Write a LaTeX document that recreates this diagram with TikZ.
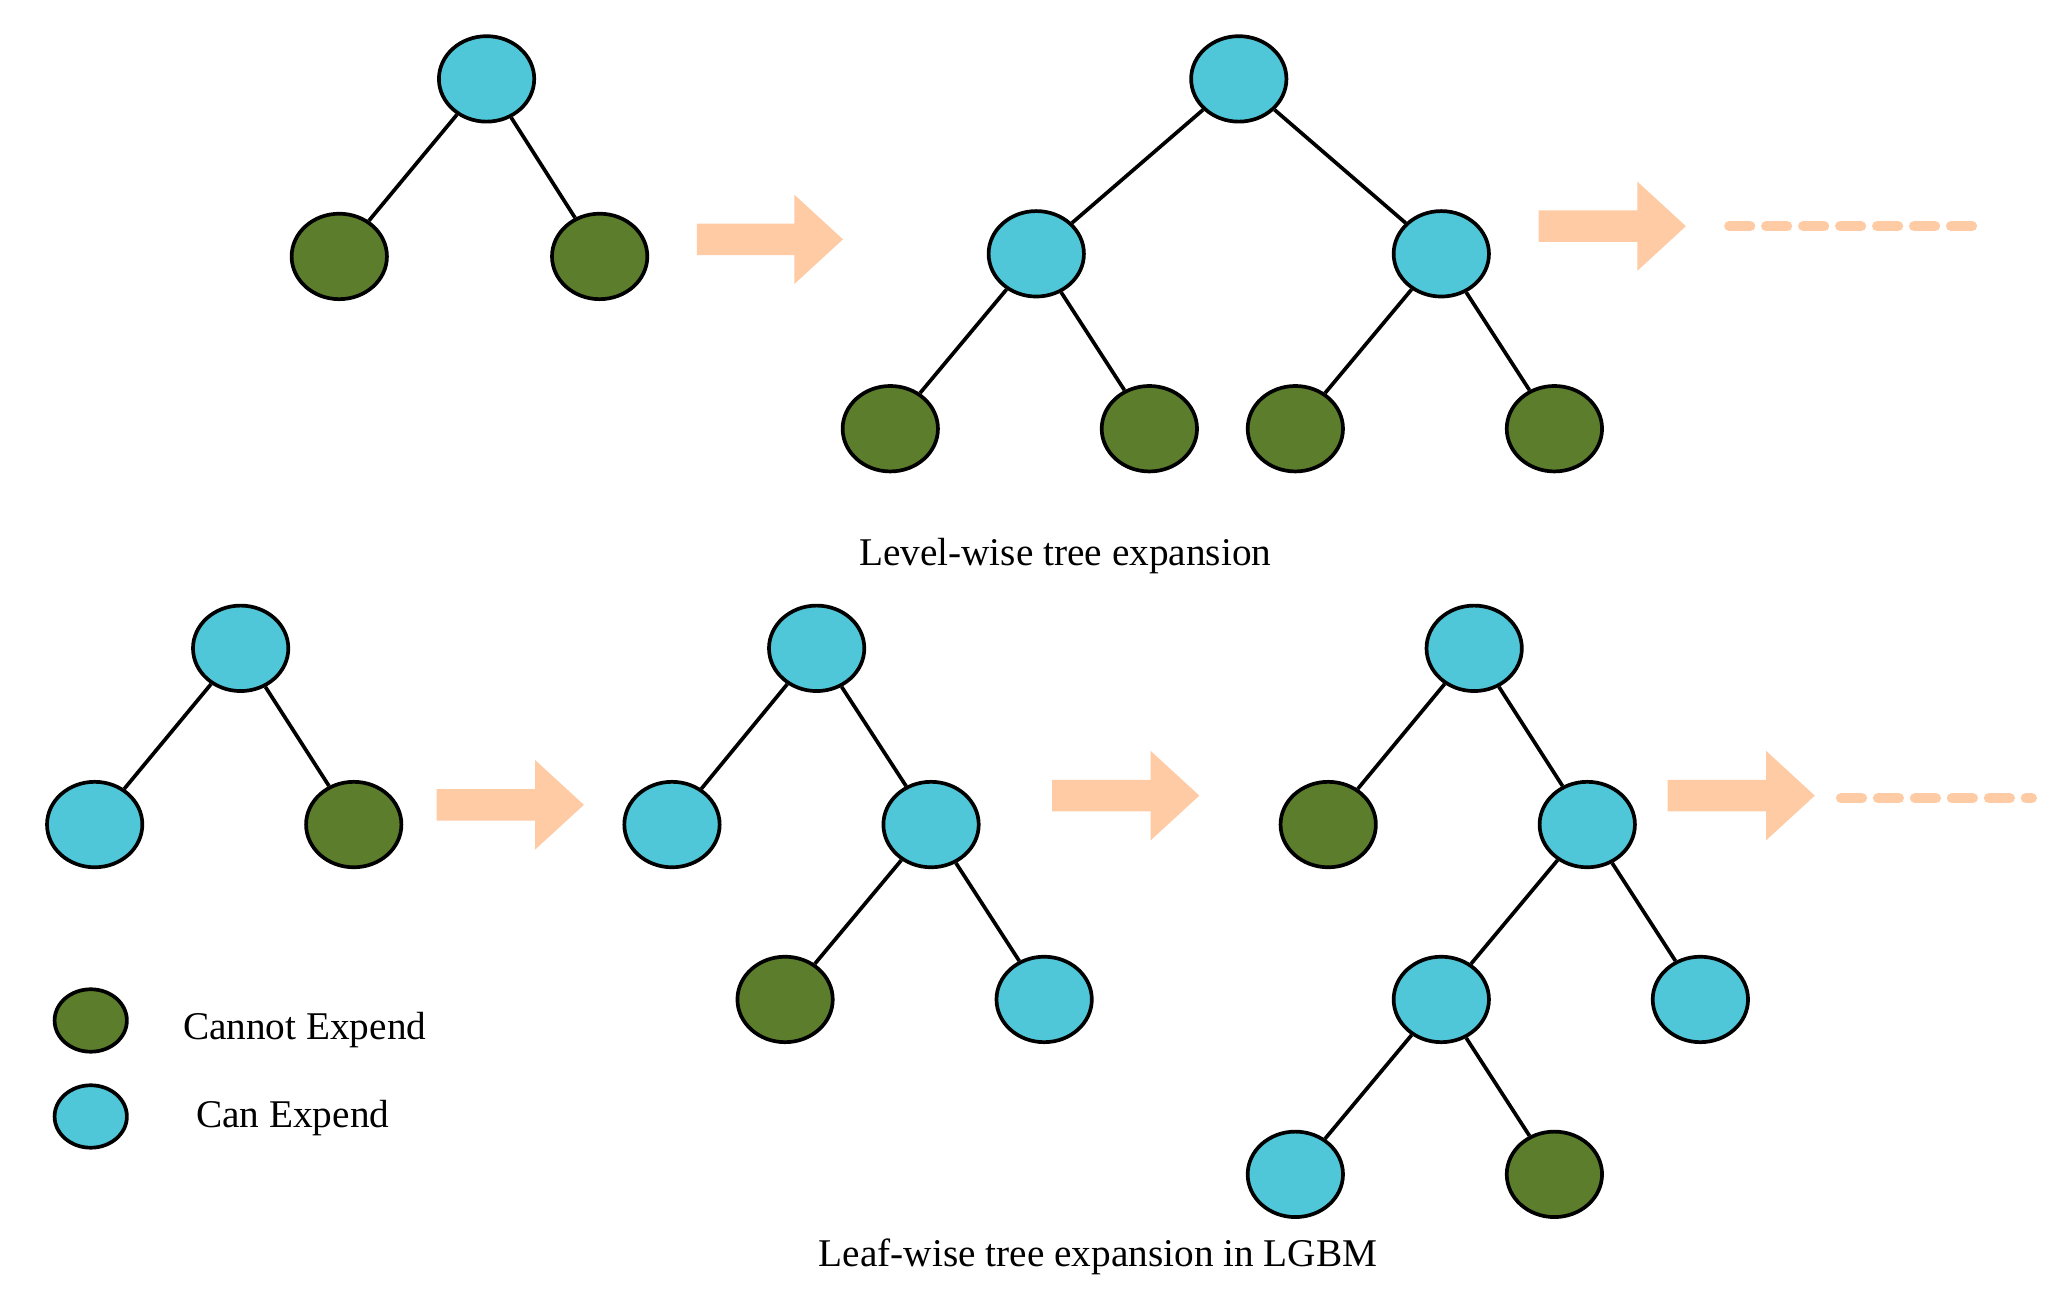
\documentclass[tikz,border=0pt]{standalone}
\usepackage{fontspec}
\setmainfont{Liberation Serif}
\usetikzlibrary{shapes.geometric}
\definecolor{cb}{HTML}{50C7D9}
\definecolor{cg}{HTML}{5B7D2C}
\definecolor{ca}{HTML}{FFCBA4}
\begin{document}
\begin{tikzpicture}[x=0.02cm,y=-0.02cm,
  nd/.style={ellipse,draw=black,line width=1.6pt,minimum width=1.45cm,minimum height=1.3cm,inner sep=0pt},
  b/.style={nd,fill=cb}, g/.style={nd,fill=cg},
  e/.style={line width=1.6pt},
  lbl/.style={font=\fontsize{17}{20}\selectfont}]
\useasboundingbox (0,0) rectangle (1568,991);
\newcommand{\fatarrow}[3]{\fill[ca] (#1,#3-12) -- (#2-37,#3-12) -- (#2-37,#3-34) -- (#2,#3) -- (#2-37,#3+34) -- (#2-37,#3+12) -- (#1,#3+12) -- cycle;}
% top tree 1
\node[b] (t1r) at (370,60) {};
\node[g] (t1a) at (258,195) {};
\node[g] (t1b) at (456,195) {};
\draw[e] (t1r) -- (t1a); \draw[e] (t1r) -- (t1b);
\fatarrow{530}{641}{182}
% top tree 2
\node[b] (t2r) at (942,60) {};
\node[b] (t2a) at (788,193) {};
\node[b] (t2b) at (1096,193) {};
\node[g] (t2c) at (677,326) {};
\node[g] (t2d) at (874,326) {};
\node[g] (t2e) at (985,326) {};
\node[g] (t2f) at (1182,326) {};
\draw[e] (t2r) -- (t2a); \draw[e] (t2r) -- (t2b);
\draw[e] (t2a) -- (t2c); \draw[e] (t2a) -- (t2d);
\draw[e] (t2b) -- (t2e); \draw[e] (t2b) -- (t2f);
\fatarrow{1170}{1282}{172}
\coordinate (d1s) at (1315,172); \coordinate (d1e) at (1505,172);
\draw[ca,line width=4.5pt,dash pattern=on 9pt off 7pt,line cap=round] (d1s) -- (d1e);
\node[lbl] (l1) at (810,423) {Level-wise tree expansion};
% bottom tree A
\node[b] (ar) at (183,493) {};
\node[b] (aa) at (72,627) {};
\node[g] (ab) at (269,627) {};
\draw[e] (ar) -- (aa); \draw[e] (ar) -- (ab);
\fatarrow{332}{444}{612}
% tree B
\node[b] (br) at (621,493) {};
\node[b] (ba) at (511,627) {};
\node[b] (bb) at (708,627) {};
\node[g] (bc) at (597,760) {};
\node[b] (bd) at (794,760) {};
\draw[e] (br) -- (ba); \draw[e] (br) -- (bb);
\draw[e] (bb) -- (bc); \draw[e] (bb) -- (bd);
\fatarrow{800}{912}{605}
% tree C
\node[b] (cr) at (1121,493) {};
\node[g] (ca1) at (1010,627) {};
\node[b] (cb1) at (1207,627) {};
\node[b] (cc) at (1096,760) {};
\node[b] (cd) at (1293,760) {};
\node[b] (ce) at (985,893) {};
\node[g] (cf) at (1182,893) {};
\draw[e] (cr) -- (ca1); \draw[e] (cr) -- (cb1);
\draw[e] (cb1) -- (cc); \draw[e] (cb1) -- (cd);
\draw[e] (cc) -- (ce); \draw[e] (cc) -- (cf);
\fatarrow{1268}{1380}{605}
\coordinate (d2s) at (1400,607); \coordinate (d2e) at (1545,607);
\draw[ca,line width=4.5pt,dash pattern=on 9pt off 7pt,line cap=round] (d2s) -- (d2e);
% legend
\node[g,minimum width=1.1cm,minimum height=0.95cm] (lg) at (69,776) {};
\node[lbl,anchor=west] (lgt) at (133,783) {Cannot Expend};
\node[b,minimum width=1.1cm,minimum height=0.95cm] (lb) at (69,849) {};
\node[lbl,anchor=west] (lbt) at (143,850) {Can Expend};
\node[lbl] (l2) at (835,956) {Leaf-wise tree expansion in LGBM};
\end{tikzpicture}
\end{document}
